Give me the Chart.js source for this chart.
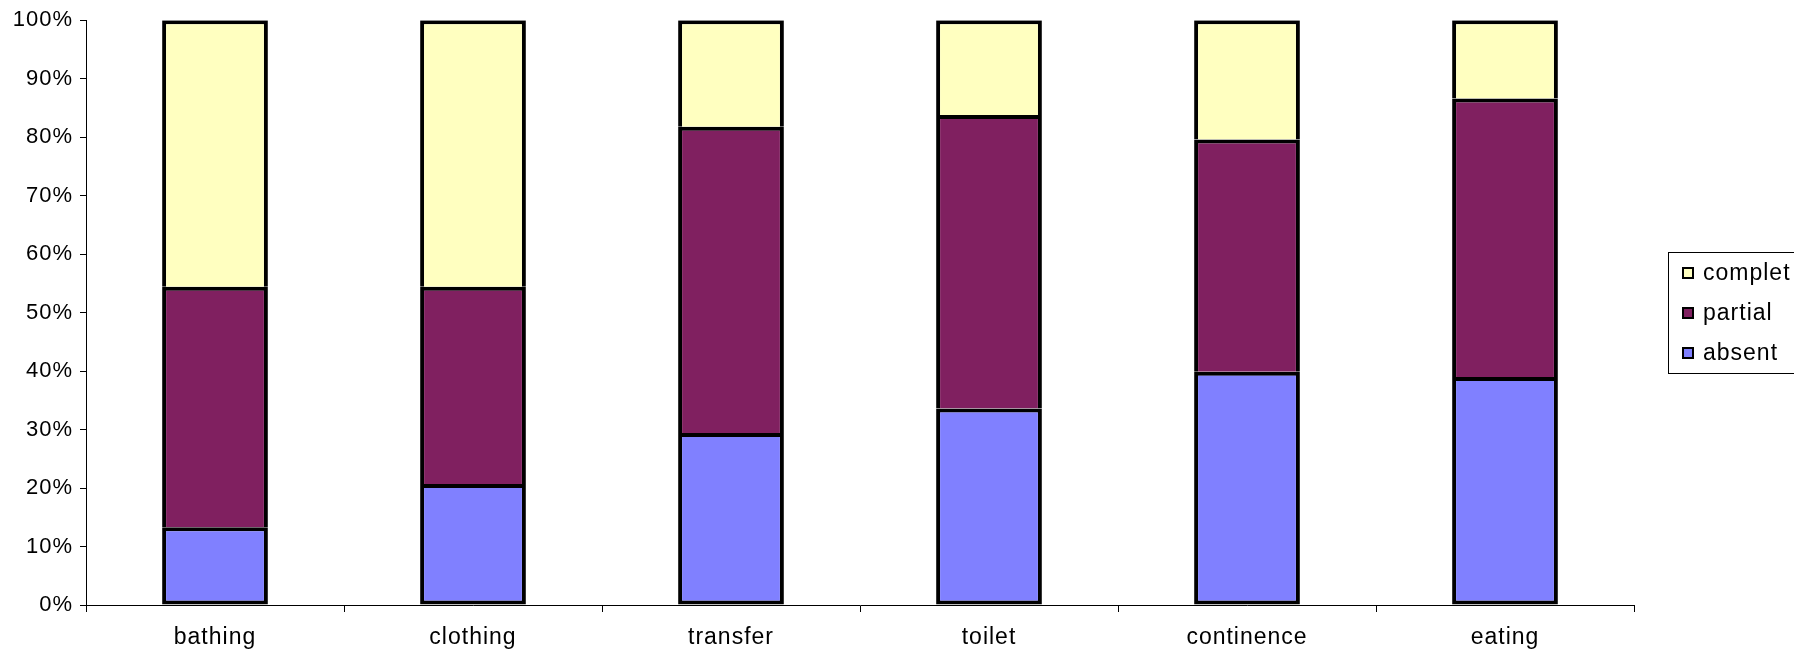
<!DOCTYPE html>
<html>
<head>
<meta charset="utf-8">
<title>ADL dependency</title>
<script src="https://cdn.jsdelivr.net/npm/chart.js@4"></script>
<style>
    html, body { margin: 0; padding: 0; background: #fff; }
</style>
</head>
<body>
<canvas id="adl-chart" width="1794" height="655"></canvas>
<script>
// values, percent of patients per activity
const categories = ["bathing", "clothing", "transfer", "toilet", "continence", "eating"];
const absent = [13.3, 20.7, 29.4, 33.6, 39.9, 39.0];
const partial = [41.1, 33.7, 52.4, 50.2, 39.7, 47.6];
const complet = [45.6, 45.6, 18.2, 16.2, 20.4, 13.4];
const yTicks = [0, 10, 20, 30, 40, 50, 60, 70, 80, 90, 100];

const FAMILY = "'Liberation Sans', Arial, sans-serif";

// old Excel text is a bit spread out
const spacedText = {
    id: "spacedText",
    beforeDraw(chart) {
        chart.ctx.letterSpacing = "1px";
    }
};

// legend in a thin box to the right, like the old Excel one
const boxedLegend = {
    id: "boxedLegend",
    afterDraw(chart) {
        const ctx = chart.ctx;
        ctx.save();
        ctx.strokeStyle = "#000";
        ctx.lineWidth = 1;
        ctx.strokeRect(1668.5, 252.5, 140, 121);

        ctx.font = `23px ${FAMILY}`;
        ctx.letterSpacing = "1px";
        ctx.textBaseline = "middle";
        const items = chart.data.datasets.slice().reverse();
        items.forEach((ds, i) => {
            const y = 273 + i * 40;
            ctx.fillStyle = ds.backgroundColor;
            ctx.fillRect(1683, y - 5, 10, 10);
            ctx.lineWidth = 2;
            ctx.strokeRect(1683, y - 5, 10, 10);
            ctx.fillStyle = "#000";
            ctx.fillText(ds.label, 1703, y + 1);
        });
        ctx.restore();
    }
};

const ctx = document.getElementById("adl-chart").getContext("2d");

const adlChart = new Chart(ctx, {
    type: "bar",
    data: {
        labels: categories,
        datasets: [{
            label: "absent",
            data: absent,
            backgroundColor: "#8080FF",
            borderColor: "#000",
            borderWidth: 4,
            borderSkipped: false
        }, {
            label: "partial",
            data: partial,
            backgroundColor: "#802060",
            borderColor: "#000",
            borderWidth: 4
        }, {
            label: "complet",
            data: complet,
            backgroundColor: "#FFFFC0",
            borderColor: "#000",
            borderWidth: 4
        }]
    },
    options: {
        responsive: false,
        animation: false,
        barPercentage: 0.41,
        categoryPercentage: 1,
        layout: {
            padding: { top: 20, right: 160, left: 0, bottom: 0 }
        },
        scales: {
            x: {
                stacked: true,
                afterFit: (scale) => { scale.height = 50; },
                grid: {
                    display: true,
                    offset: true,
                    drawOnChartArea: false,
                    drawTicks: true,
                    tickLength: 7,
                    color: "#000"
                },
                border: { display: true, color: "#000", width: 1 },
                ticks: {
                    color: "#000",
                    font: { family: FAMILY, size: 23 },
                    padding: 12,
                    maxRotation: 0
                }
            },
            y: {
                stacked: true,
                min: 0,
                max: 100,
                afterFit: (scale) => { scale.width = 86; },
                afterBuildTicks: (scale) => {
                    scale.ticks = yTicks.map(v => ({ value: v }));
                },
                grid: {
                    display: true,
                    drawOnChartArea: false,
                    drawTicks: true,
                    tickLength: 6,
                    color: "#000"
                },
                border: { display: true, color: "#000", width: 1 },
                ticks: {
                    color: "#000",
                    font: { family: FAMILY, size: 22 },
                    padding: 7,
                    callback: (v) => v + "%"
                }
            }
        },
        plugins: {
            legend: { display: false },
            tooltip: { enabled: false }
        }
    },
    plugins: [spacedText, boxedLegend]
});
</script>
</body>
</html>
